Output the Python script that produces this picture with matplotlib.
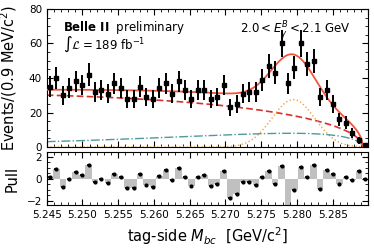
import numpy as np
import matplotlib.pyplot as plt
from matplotlib.ticker import MultipleLocator, FuncFormatter

# binning: 50 bins of 0.9 MeV
bin_width = 0.0009
mbc_lo, mbc_hi = 5.245, 5.29

# data counts per bin
counts = [35, 40, 30, 34, 38, 36, 42, 32, 33, 31, 37, 34, 28, 28, 35, 29,
          28, 34, 37, 31, 38, 33, 28, 33,
          33, 28, 29, 36, 23, 25, 31, 32, 32, 39, 47, 43, 60, 37, 46, 60,
          48, 50, 29, 33, 25, 16, 14, 8, 4, 1]

# pulls per bin
pulls = [0.12, 0.87, -0.73, 0.0, 0.6, 0.3, 1.2, -0.31, -0.07, -0.43, 0.44, 0.12,
         -0.88, -0.88, 0.39, -0.6, -0.79, 0.26, 0.78, -0.16, 0.93, 0.17, -0.7, 0.17,
         0.33, -0.7, -0.49, 0.69, -1.78, -1.39, -0.31, -0.31, -0.58, 0.12, 0.69, -0.52,
         1.14, -2.8, -1.0, 1.02, 0.14, 1.2, -0.97, 0.78, 0.39, -0.52, 0.12, -0.16,
         0.69, -0.07]

# fit model parameters
m0 = 5.2892
cont_c, cont_norm = -19.0, 61.0      # continuum (argus)
bb_c, bb_norm = -130.0, 40.2         # peaking BB background
sig_mean, sig_sigma, sig_amp = 5.2795, 0.003, 27.5

centers = mbc_lo + bin_width * (np.arange(len(counts)) + 0.5)
counts = np.array(counts)
errs = np.sqrt(counts)


def argus(x, norm, c):
    z = np.clip(1 - (x / m0) ** 2, 0, None)
    return norm * x * np.sqrt(z) * np.exp(c * z)


xs = np.linspace(mbc_lo, mbc_hi, 500)
cont = argus(xs, cont_norm, cont_c)
bb = argus(xs, bb_norm, bb_c)
sig = sig_amp * np.exp(-0.5 * ((xs - sig_mean) / sig_sigma) ** 2)
total = cont + bb + sig

fig = plt.figure(figsize=(3.74, 2.48), dpi=100)
ax1 = fig.add_axes([0.125, 0.407, 0.86, 0.557])
ax2 = fig.add_axes([0.125, 0.173, 0.86, 0.213])

ax1.plot(xs, total, color='#f2553f', lw=1.3, zorder=3)
ax1.plot(xs, cont, color='#d8302a', lw=1.2, ls=(0, (4, 2)), zorder=2)
ax1.plot(xs, sig, color='#f2a23a', lw=1.0, ls=':', zorder=2)
ax1.plot(xs, bb, color='#4f9a9c', lw=1.0, ls='-.', zorder=2)
ax1.errorbar(centers, counts, yerr=errs, fmt='s', ms=2.5, color='k',
             elinewidth=1.4, capsize=0, zorder=4)

ax1.set_xlim(mbc_lo, mbc_hi)
ax1.set_ylim(0, 80)
ax1.set_ylabel('Events/(0.9 MeV/c$^2$)', fontsize=10.5)
ax1.tick_params(labelbottom=False)
ax1.yaxis.set_major_locator(MultipleLocator(20))
ax1.yaxis.set_minor_locator(MultipleLocator(5))

ax1.text(0.05, 0.93, r'$\bf{Belle\ II}$  preliminary', transform=ax1.transAxes,
         fontsize=8.5, va='top')
ax1.text(0.05, 0.815, r'$\int\mathcal{L} = 189$ fb$^{-1}$', transform=ax1.transAxes,
         fontsize=8.5, va='top')
ax1.text(0.60, 0.93, r'$2.0 < E_{\gamma}^{B} < 2.1$ GeV', transform=ax1.transAxes,
         fontsize=8.5, va='top')

ax2.bar(centers, pulls, width=bin_width, color='#c0c0c0')
ax2.errorbar(centers, pulls, xerr=bin_width * 0.3, fmt='o', ms=2, color='k',
             elinewidth=1.2, capsize=0)
ax2.set_xlim(mbc_lo, mbc_hi)
ax2.set_ylim(-2.4, 2.4)
ax2.set_ylabel('Pull', fontsize=10.5)
ax2.set_xlabel('tag-side $M_{bc}$  [GeV/c$^2$]', fontsize=10.5)
ax2.yaxis.set_major_locator(MultipleLocator(2))
ax2.yaxis.set_minor_locator(MultipleLocator(0.5))

for ax in (ax1, ax2):
    ax.xaxis.set_major_locator(MultipleLocator(0.005))
    ax.xaxis.set_minor_locator(MultipleLocator(0.001))
    ax.tick_params(which='both', direction='in', top=True, right=True, labelsize=7.5)
    ax.tick_params(which='major', length=4)
    ax.tick_params(which='minor', length=2)
# last tick (5.290) has no label in the original
ax2.xaxis.set_major_formatter(FuncFormatter(lambda v, p: '' if v > 5.2895 else '%.3f' % v))
ax1.yaxis.set_label_coords(-0.085, 0.5)
ax2.yaxis.set_label_coords(-0.085, 0.5)

fig.savefig('out.png', dpi=100)
